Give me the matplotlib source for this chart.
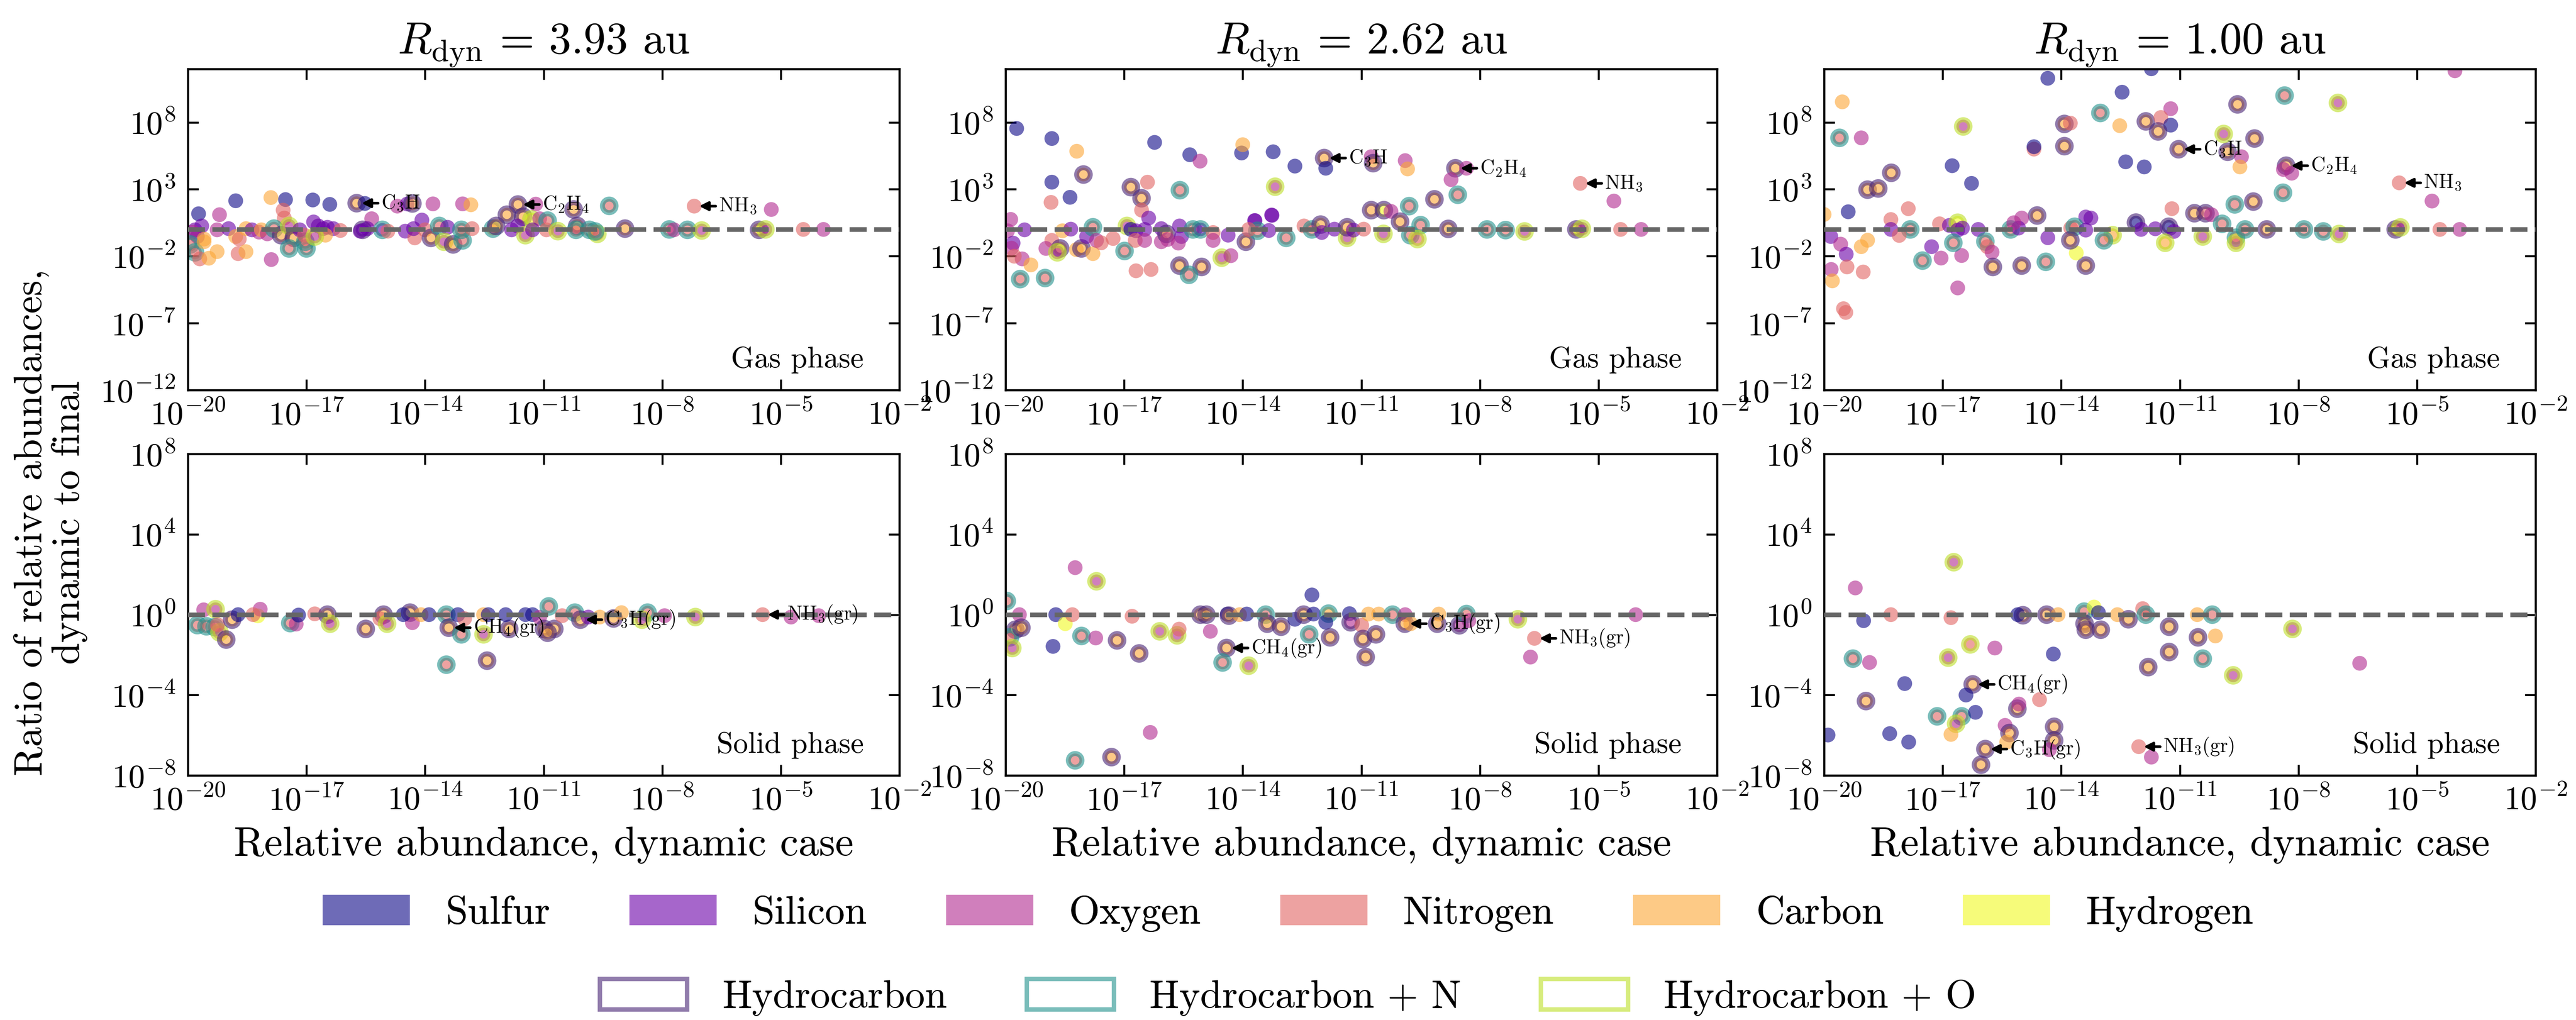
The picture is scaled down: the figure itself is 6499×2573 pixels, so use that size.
import numpy as np
import matplotlib
matplotlib.use("Agg")
import matplotlib.pyplot as plt
from matplotlib.patches import Patch
from matplotlib.ticker import NullLocator, FixedLocator

plt.rcParams.update({
    "font.family": "serif",
    "font.serif": ["cmr10"],
    "mathtext.fontset": "cm",
    "axes.formatter.use_mathtext": True,
})

# ---------------- data: (log10 abundance, log10 ratio, element group, hydrocarbon class) ----------------
TITLES = [r"$R_\mathrm{dyn}\,=\,3.93$ au", r"$R_\mathrm{dyn}\,=\,2.62$ au", r"$R_\mathrm{dyn}\,=\,1.00$ au"]
ELEMENTS = ["Sulfur", "Silicon", "Oxygen", "Nitrogen", "Carbon", "Hydrogen"]
ELEM_CODES = ["S", "Si", "O", "N", "C", "H"]
HC_LABELS = ["Hydrocarbon", "Hydrocarbon + N", "Hydrocarbon + O"]
HC_CODES = ["HC", "HCN", "HCO"]
X_TICKS = [1e-20, 1e-17, 1e-14, 1e-11, 1e-8, 1e-5, 1e-2]
GAS_YTICKS = [1e-12, 1e-7, 1e-2, 1e3, 1e8]
SOLID_YTICKS = [1e-8, 1e-4, 1e0, 1e4, 1e8]

GAS_393 = [
    (-19.73, 1.17, "S", ""), (-19.2, 1.10, "O", ""), (-18.79, 2.14, "S", ""), (-17.9, 2.38, "C", ""),
    (-17.53, 2.23, "S", ""), (-17.59, 1.44, "N", ""), (-17.56, 0.85, "N", ""), (-16.84, 2.2, "S", ""),
    (-16.41, 1.87, "S", ""), (-15.73, 1.96, "C", "HC"), (-15.52, 1.94, "S", ""), (-14.7, 1.74, "O", ""),
    (-14.45, 1.9, "Si", ""), (-14.32, 1.94, "C", "HC"), (-13.8, 1.91, "O", ""), (-13.05, 1.91, "O", ""),
    (-12.84, 1.84, "C", ""), (-11.65, 1.86, "C", "HC"), (-11.2, 1.89, "O", ""), (-15.35, 0.8, "O", ""),
    (-14.08, 0.7, "Si", ""), (-11.93, 1.1, "C", "HC"), (-11.52, 0.95, "C", "HC"), (-11.31, 0.75, "H", "HCO"),
    (-11.1, 0.8, "O", ""), (-10.24, 1.49, "C", "HC"), (-9.34, 1.76, "N", "HCN"), (-7.19, 1.74, "N", ""),
    (-5.24, 1.49, "O", ""), (-10.9, 0.66, "N", "HCN"),
    (-19.82, -0.03, "Si", ""), (-19.65, 0.26, "Si", ""), (-19.76, -0.53, "Si", ""), (-19.88, -0.2, "O", ""),
    (-19.59, -0.72, "C", ""), (-19.26, -0.03, "O", ""), (-18.97, 0.06, "Si", ""), (-18.79, -0.53, "C", ""),
    (-18.7, -0.72, "N", ""), (-18.53, 0.06, "C", ""), (-18.38, -0.03, "Si", ""), (-18.2, -0.2, "O", ""),
    (-18.14, -0.03, "C", ""), (-17.99, -0.33, "O", ""), (-17.82, 0.06, "N", "HCN"), (-17.64, -0.43, "C", "HC"),
    (-17.44, 0.26, "O", "HCO"), (-17.32, -0.63, "C", "HC"), (-17.44, -1.42, "N", "HCN"), (-17.0, -1.42, "N", "HCN"),
    (-17.03, -0.92, "N", "HCN"), (-17.17, -0.03, "Si", ""), (-17.05, -0.43, "N", ""), (-16.82, 0.56, "Si", ""),
    (-16.7, 0.26, "Si", ""), (-16.58, 0.06, "Si", ""), (-16.47, 0.16, "Si", ""), (-16.32, 0.06, "Si", ""),
    (-16.52, -0.43, "C", ""), (-16.14, -0.08, "N", ""), (-16.79, -0.53, "O", "HCO"), (-15.58, -0.03, "Si", "HC"),
    (-15.64, -0.13, "Si", ""), (-15.46, 0.06, "Si", ""), (-15.08, -0.03, "Si", "HCN"), (-14.94, -0.13, "N", ""),
    (-14.5, -0.13, "Si", ""), (-14.26, -0.63, "N", ""), (-14.29, 0.06, "Si", ""), (-14.0, -0.03, "N", ""),
    (-13.85, -0.63, "C", "HC"), (-13.64, 0.26, "N", "HCN"), (-13.43, 0.16, "Si", ""), (-13.52, -0.92, "O", "HCO"),
    (-13.29, -1.12, "C", "HC"), (-13.05, -0.82, "N", "HCN"), (-13.08, -0.03, "N", "HCN"), (-12.81, 0.06, "N", ""),
    (-12.28, 0.06, "C", "HCN"), (-12.2, 0.26, "C", "HC"), (-11.81, -0.03, "Si", ""), (-11.66, 0.26, "Si", ""),
    (-11.46, -0.43, "O", "HCO"), (-11.28, -0.03, "Si", ""), (-10.93, -0.03, "N", ""),
    (-19.94, -1.12, "N", "HCN"), (-19.82, -1.71, "N", "HCN"), (-19.7, -2.2, "N", ""), (-19.47, -2.15, "C", ""),
    (-19.26, -1.66, "C", ""), (-19.59, -0.92, "C", ""), (-18.73, -1.81, "N", ""), (-18.53, -1.66, "C", ""),
    (-17.89, -2.25, "O", ""),
    (-10.64, -0.13, "O", "HCO"), (-10.15, 0.26, "C", "HC"), (-10.18, -0.03, "N", "HCN"), (-9.84, -0.03, "N", "HCN"),
    (-9.64, -0.33, "N", "HCO"), (-9.7, -0.15, "N", "HCN"), (-8.94, 0.06, "C", "HC"), (-7.82, 0.0, "N", "HCN"),
    (-7.7, -0.03, "O", ""), (-7.36, -0.03, "N", "HCN"), (-7.0, -0.08, "O", "HCO"), (-5.55, -0.03, "C", "HC"),
    (-5.39, 0.0, "O", "HCO"), (-4.43, 0.0, "N", ""), (-3.92, 0.0, "O", ""),
]

GAS_262 = [
    (-19.72, 7.54, "S", ""), (-18.83, 6.79, "S", ""), (-18.2, 5.84, "C", ""), (-16.23, 6.5, "S", ""),
    (-15.34, 5.58, "S", ""), (-15.08, 5.1, "O", ""), (-14.03, 5.71, "S", ""), (-14.0, 6.33, "C", ""),
    (-13.23, 5.8, "S", ""), (-12.68, 4.73, "S", ""), (-11.94, 5.33, "C", "HC"), (-11.9, 4.57, "S", ""),
    (-10.75, 5.43, "O", ""), (-10.7, 4.95, "C", "HC"), (-9.89, 5.14, "O", ""), (-9.83, 4.52, "C", ""),
    (-8.62, 4.57, "C", "HC"), (-8.34, 4.57, "O", ""), (-8.73, 3.72, "O", ""), (-5.46, 3.44, "N", ""),
    (-4.61, 2.12, "O", ""), (-18.83, 3.53, "S", ""), (-18.37, 2.4, "S", ""), (-18.85, 2.02, "N", ""),
    (-18.03, 4.1, "C", "HC"), (-16.83, 3.16, "C", "HC"), (-16.41, 3.53, "N", ""), (-16.56, 2.33, "C", "HC"),
    (-16.56, 1.44, "N", ""), (-16.38, 0.85, "Si", ""), (-15.59, 2.93, "N", "HCN"), (-13.18, 3.19, "O", "HCO"),
    (-13.27, 1.08, "Si", ""), (-13.7, 0.66, "Si", ""), (-10.75, 1.44, "C", "HC"), (-10.43, 1.44, "H", "HC"),
    (-10.25, 1.35, "O", ""), (-9.79, 1.74, "N", "HCN"), (-9.15, 2.25, "C", "HC"), (-8.56, 2.59, "N", "HCN"),
    (-10.02, 0.58, "C", "HC"),
    (-19.87, 0.75, "O", ""), (-19.52, -0.03, "Si", ""), (-19.95, -0.1, "O", ""), (-19.81, -1.02, "Si", ""),
    (-19.85, -1.4, "O", ""), (-19.58, -2.2, "O", ""), (-19.78, -2.0, "N", ""), (-19.36, -2.65, "C", ""),
    (-19.63, -3.71, "N", "HCN"), (-19.0, -3.63, "N", "HCN"), (-18.83, -0.82, "N", ""), (-18.98, -1.42, "O", ""),
    (-18.62, -1.42, "C", "HC"), (-18.69, -1.71, "O", "HCO"), (-18.56, -0.1, "C", ""), (-18.35, 0.02, "Si", ""),
    (-18.21, -1.51, "C", ""), (-18.08, -1.42, "C", "HC"), (-17.95, -0.53, "Si", ""), (-17.79, -1.81, "C", ""),
    (-17.79, 0.16, "N", "HCN"), (-17.7, -0.82, "O", ""), (-17.58, -1.0, "N", ""), (-17.28, -0.68, "N", ""),
    (-16.99, -1.61, "N", "HCN"), (-16.93, 0.26, "O", "HCO"), (-16.83, 0.0, "S", ""), (-16.7, -0.1, "Si", ""),
    (-16.48, 0.0, "Si", ""), (-16.72, -0.82, "N", ""), (-16.48, -0.82, "O", ""), (-16.06, 0.06, "Si", ""),
    (-16.06, -0.92, "O", ""), (-15.93, -0.33, "C", "HC"), (-15.9, -0.75, "O", ""), (-15.6, 0.26, "Si", ""),
    (-15.55, -0.53, "Si", ""), (-15.63, -1.02, "O", ""), (-15.26, 0.0, "N", "HCN"), (-15.07, 0.0, "Si", "HCN"),
    (-14.75, -0.23, "N", ""), (-14.75, -0.82, "O", ""), (-14.37, -0.43, "Si", ""), (-14.53, -2.11, "O", "HCO"),
    (-14.3, -1.96, "O", ""), (-15.6, -2.7, "C", "HC"), (-15.04, -2.8, "C", "HC"), (-15.36, -3.39, "N", "HCN"),
    (-16.7, -3.09, "N", ""), (-16.32, -2.99, "N", ""), (-13.92, -0.92, "C", "HC"), (-13.69, 0.66, "Si", ""),
    (-13.63, -0.1, "N", "HCN"), (-13.85, 0.0, "N", ""), (-13.34, -0.08, "Si", ""), (-13.26, 1.05, "Si", ""),
    (-12.9, -0.63, "N", "HCN"), (-12.45, 0.26, "N", ""), (-12.25, 0.0, "N", "HCN"), (-12.03, 0.36, "C", "HC"),
    (-12.0, -0.23, "Si", ""), (-11.68, 0.02, "Si", ""), (-11.36, -0.63, "O", "HCO"), (-11.36, 0.16, "C", "HC"),
    (-11.2, -0.05, "Si", ""), (-10.94, 0.02, "N", ""), (-10.44, -0.33, "O", "HCO"),
    (-9.5, 0.32, "N", "HCN"), (-9.76, -0.43, "N", "HCN"), (-9.58, -0.72, "N", "HCO"), (-8.8, 0.04, "C", "HC"),
    (-7.82, 0.0, "N", "HCN"), (-7.35, -0.05, "N", "HCN"), (-6.87, -0.15, "O", "HCO"), (-5.56, 0.0, "C", "HC"),
    (-5.42, 0.05, "O", "HCO"), (-4.44, 0.0, "N", ""), (-3.92, 0.0, "O", ""),
]

GAS_100 = [
    (-19.54, 9.53, "C", ""), (-19.61, 6.84, "N", "HCN"), (-19.06, 6.84, "O", ""), (-16.48, 7.69, "O", "HCO"),
    (-14.34, 11.29, "S", ""), (-11.72, 12.0, "S", ""), (-12.46, 10.25, "S", ""), (-13.01, 8.7, "N", "HCN"),
    (-11.23, 9.02, "O", ""), (-13.92, 7.88, "C", "HC"), (-13.77, 7.94, "N", ""), (-12.52, 7.75, "C", ""),
    (-11.86, 8.07, "C", "HC"), (-11.48, 8.36, "N", ""), (-11.23, 7.79, "S", ""), (-11.55, 7.32, "C", "HC"),
    (-9.54, 9.34, "C", "HC"), (-8.35, 10.0, "N", "HCN"), (-7.0, 9.45, "O", "HCO"), (-4.04, 11.85, "O", ""),
    (-14.69, 6.0, "N", ""), (-14.69, 6.18, "S", ""), (-13.92, 6.22, "C", "HC"), (-9.89, 7.13, "O", "HCO"),
    (-9.11, 6.79, "C", "HC"), (-11.03, 5.99, "C", "HC"), (-9.79, 5.8, "C", "HC"), (-9.44, 5.43, "O", ""),
    (-9.48, 4.67, "C", ""), (-12.37, 5.05, "S", ""), (-11.9, 4.67, "S", ""), (-16.76, 4.76, "S", ""),
    (-16.27, 3.44, "S", ""), (-18.3, 4.23, "C", "HC"), (-18.9, 2.97, "C", "HC"), (-18.63, 3.06, "C", "HC"),
    (-8.31, 4.76, "C", "HC"), (-8.38, 4.48, "O", ""), (-8.17, 4.2, "O", ""), (-5.45, 3.48, "N", ""),
    (-4.62, 2.12, "O", ""), (-8.39, 2.74, "N", "HCN"), (-9.14, 2.08, "C", "HC"), (-9.61, 1.87, "N", "HCN"),
    (-11.2, 1.55, "N", ""), (-10.63, 1.21, "C", "HC"), (-10.35, 1.21, "N", "HC"), (-10.2, 1.1, "O", ""),
    (-14.61, 1.04, "C", "HC"), (-19.39, 1.32, "S", ""), (-17.87, 1.55, "N", ""), (-20.0, 1.12, "C", ""),
    (-18.31, 0.74, "N", ""), (-17.08, 0.42, "N", ""), (-13.38, 0.93, "Si", ""), (-13.25, 0.85, "Si", ""),
    (-15.0, 0.85, "O", ""),
    (-18.31, 0.0, "Si", ""), (-17.82, 0.0, "N", "HCN"), (-18.1, -0.45, "N", ""), (-16.83, 0.3, "Si", ""),
    (-16.62, 0.5, "H", "HCO"), (-16.5, 0.1, "Si", ""), (-16.62, -0.05, "Si", ""), (-16.1, 0.0, "Si", ""),
    (-15.92, -0.9, "N", "HCN"), (-15.28, 0.0, "N", "HCN"), (-15.08, 0.1, "Si", ""), (-15.2, 0.5, "O", ""),
    (-13.76, 0.1, "N", ""), (-13.66, 0.2, "N", "HCN"), (-13.38, -0.05, "Si", ""), (-12.7, -0.43, "C", "HCO"),
    (-12.92, -0.81, "N", "HCN"), (-12.11, 0.51, "S", "HC"), (-11.98, 0.0, "Si", ""), (-11.62, 0.05, "Si", ""),
    (-11.28, 0.2, "S", "HC"), (-11.15, -0.15, "Si", ""), (-11.37, -1.0, "C", "HCO"), (-10.42, -0.53, "O", "HCO"),
    (-9.93, 0.42, "N", "HCN"), (-9.58, -0.62, "N", "HCN"), (-9.58, -1.0, "N", "HCO"), (-9.35, 0.0, "N", "HCN"),
    (-8.8, 0.0, "C", "HC"), (-7.86, 0.0, "N", "HCN"), (-7.37, -0.15, "N", "HCN"), (-6.97, -0.34, "O", "HCO"),
    (-5.54, 0.0, "C", "HC"), (-5.42, 0.15, "O", "HCO"), (-4.42, 0.0, "N", ""), (-3.92, 0.0, "O", ""),
    (-19.83, -0.53, "Si", ""), (-19.58, -1.1, "O", ""), (-19.44, -1.85, "Si", ""), (-19.82, -2.99, "O", ""),
    (-19.42, -2.8, "N", ""), (-19.01, -3.18, "N", ""), (-19.79, -3.84, "C", ""), (-19.06, -1.29, "C", ""),
    (-18.9, -0.81, "C", ""), (-17.28, -1.29, "Si", ""), (-17.51, -2.33, "N", "HCN"), (-17.04, -2.14, "O", ""),
    (-16.52, -1.95, "O", ""), (-16.73, -1.0, "N", "HCN"), (-15.87, -1.29, "N", ""), (-15.75, -1.7, "O", ""),
    (-15.73, -2.8, "C", "HC"), (-15.0, -2.7, "C", "HC"), (-14.39, -2.42, "N", "HCN"), (-13.38, -2.7, "C", "HC"),
    (-13.62, -1.76, "H", ""), (-14.34, -0.62, "Si", ""), (-13.77, -0.81, "C", "HC"), (-16.62, -4.37, "O", ""),
    (-19.51, -5.92, "N", ""), (-19.45, -6.2, "N", ""),
]

SOLID_393 = [
    (-19.6, 0.24, "O", ""), (-19.3, 0.27, "O", "HCO"), (-19.76, -0.52, "N", "HCN"), (-19.53, -0.58, "N", "HCN"),
    (-19.32, -0.62, "N", "HCN"), (-19.2, -0.88, "N", "HCO"), (-19.25, -0.5, "N", ""), (-18.88, -0.25, "C", "HC"),
    (-18.73, 0.0, "S", ""), (-19.03, -1.24, "C", "HC"), (-18.23, -0.06, "H", ""), (-18.17, 0.27, "O", ""),
    (-18.35, 0.0, "N", ""), (-17.41, -0.42, "N", "HCN"), (-17.26, -0.47, "O", ""), (-17.2, -0.02, "S", ""),
    (-16.79, 0.04, "N", ""), (-16.47, 0.0, "C", "HC"), (-16.4, -0.45, "O", "HCO"), (-15.5, -0.71, "C", "HC"),
    (-15.05, 0.0, "C", "HC"), (-15.14, -0.2, "N", ""), (-14.96, -0.45, "O", "HCO"), (-14.38, 0.1, "C", "HC"),
    (-14.32, -0.4, "O", ""), (-14.55, 0.0, "S", ""), (-14.1, 0.0, "C", ""), (-13.9, 0.0, "S", ""),
    (-13.46, 0.0, "N", "HCN"), (-13.4, -0.65, "C", "HC"), (-13.17, 0.0, "S", ""), (-13.08, -0.98, "N", "HCN"),
    (-13.0, -0.2, "N", ""), (-12.52, -0.98, "O", "HCO"), (-12.52, 0.0, "C", ""), (-12.4, 0.0, "S", ""),
    (-11.87, -0.71, "C", "HC"), (-11.96, 0.0, "S", ""), (-11.46, 0.0, "S", ""), (-11.28, 0.0, "S", ""),
    (-11.1, -0.13, "O", ""), (-10.99, -0.71, "C", "HC"), (-10.87, 0.41, "N", "HCN"), (-13.46, -2.49, "N", "HCN"),
    (-12.43, -2.29, "C", "HC"), (-10.73, -0.71, "C", "HC"), (-10.9, -0.9, "C", "HC"), (-10.53, -0.05, "N", ""),
    (-10.21, 0.1, "N", "HCN"), (-10.07, -0.25, "C", "HC"), (-9.87, -0.12, "Si", ""), (-9.58, -0.12, "C", ""),
    (-9.23, -0.19, "C", "HC"), (-9.03, 0.1, "C", ""), (-8.37, 0.1, "N", "HCN"), (-8.51, -0.25, "O", "HCO"),
    (-7.94, -0.05, "O", ""), (-7.16, -0.12, "O", "HCO"), (-5.46, 0.0, "N", ""), (-4.74, -0.12, "O", ""),
    (-4.04, -0.05, "O", ""),
]

SOLID_262 = [
    (-19.97, 0.68, "N", "HCN"), (-19.65, 0.0, "O", ""), (-19.75, -0.75, "C", "HC"), (-19.89, -1.13, "N", "HCN"),
    (-19.83, -1.66, "O", "HCO"), (-19.6, -0.65, "C", "HC"), (-18.8, -1.58, "S", ""), (-18.73, 0.0, "S", ""),
    (-18.49, -0.45, "H", ""), (-18.31, 0.0, "N", ""), (-18.24, 2.34, "O", ""), (-17.7, 1.66, "O", "HCO"),
    (-18.08, -1.06, "N", "HCN"), (-17.72, -1.16, "O", ""), (-17.18, -1.28, "C", "HC"), (-16.8, -0.08, "N", ""),
    (-16.62, -1.93, "C", "HC"), (-16.1, -0.83, "O", "HCO"), (-15.66, -1.03, "O", "HCO"), (-15.61, -0.72, "N", ""),
    (-15.07, 0.0, "C", "HC"), (-14.92, 0.0, "C", "HC"), (-14.82, -0.83, "O", ""), (-14.39, 0.03, "S", ""),
    (-14.35, -0.05, "C", "HC"), (-14.08, 0.0, "C", ""), (-13.9, 0.03, "S", ""), (-14.41, -1.66, "C", "HC"),
    (-14.51, -2.38, "N", "HCN"), (-13.85, -2.54, "O", "HCO"), (-13.42, 0.0, "N", "HCN"), (-13.38, -0.45, "C", "HC"),
    (-13.03, -0.6, "C", "HC"), (-12.68, -0.23, "S", ""), (-12.46, 0.0, "C", "HC"), (-12.25, 0.98, "S", ""),
    (-12.21, 0.03, "S", ""), (-12.32, -0.98, "N", "HCN"), (-11.83, 0.05, "C", "HCN"), (-11.9, -0.38, "S", ""),
    (-11.79, -1.13, "C", "HC"), (-11.3, 0.05, "S", ""), (-11.27, -0.38, "O", "HC"), (-10.99, -0.53, "N", ""),
    (-10.96, -1.21, "C", "HC"), (-10.89, -2.11, "C", "HC"), (-10.82, 0.03, "C", ""), (-10.63, -0.98, "C", "HC"),
    (-10.56, 0.03, "C", ""), (-10.21, 0.0, "N", "HCN"), (-9.89, 0.0, "O", ""), (-9.9, -0.45, "C", "HC"),
    (-9.75, -0.45, "C", ""), (-9.08, -0.45, "C", "HC"), (-9.04, 0.03, "C", ""), (-8.52, -0.53, "O", "HC"),
    (-8.34, 0.03, "N", "HCN"), (-8.28, -0.3, "O", ""), (-7.04, -0.23, "O", "HCO"), (-6.62, -1.18, "N", ""),
    (-6.72, -2.11, "O", ""), (-4.06, 0.0, "O", ""), (-18.24, -7.25, "N", "HCN"), (-17.32, -7.09, "C", "HC"),
    (-16.34, -5.86, "O", ""),
]

SOLID_100 = [
    (-16.72, 2.61, "O", "HCO"), (-19.21, 1.33, "O", ""), (-18.31, 0.0, "N", ""), (-16.79, -0.15, "N", ""),
    (-19.0, -0.3, "S", ""), (-19.27, -2.19, "N", "HCN"), (-18.85, -2.38, "O", ""), (-16.86, -2.14, "O", "HCO"),
    (-16.3, -1.48, "N", "HCO"), (-15.68, -1.66, "O", ""), (-14.2, -1.96, "S", ""), (-14.97, -0.03, "C", "HC"),
    (-15.1, 0.0, "S", ""), (-14.37, 0.0, "C", "HC"), (-14.08, 0.0, "C", ""), (-13.42, 0.15, "N", "HCN"),
    (-13.41, -0.45, "C", "HC"), (-13.38, -0.75, "C", "HC"), (-13.17, 0.38, "H", ""), (-13.06, 0.1, "S", ""),
    (-13.0, -0.75, "C", "HC"), (-12.58, 0.0, "C", ""), (-12.3, -0.23, "C", "HC"), (-11.94, 0.3, "N", ""),
    (-11.86, 0.0, "N", "HCN"), (-11.27, -0.6, "C", "HC"), (-11.27, -1.86, "C", "HC"), (-11.8, -2.61, "C", "HC"),
    (-10.56, 0.0, "C", ""), (-10.18, 0.0, "N", "HCN"), (-10.54, -1.13, "C", "HC"), (-10.1, -1.06, "C", ""),
    (-10.42, -2.19, "N", "HCN"), (-9.65, -3.02, "O", "HCO"), (-8.15, -0.71, "O", "HCO"), (-6.45, -2.42, "O", ""),
    (-17.96, -3.43, "S", ""), (-16.24, -3.47, "C", "HC"), (-16.41, -4.0, "S", ""), (-18.94, -4.3, "C", "HC"),
    (-17.14, -5.06, "N", "HCN"), (-16.52, -5.06, "N", "HCN"), (-16.17, -4.86, "S", ""), (-16.66, -5.43, "O", "HCO"),
    (-16.79, -5.96, "C", ""), (-18.34, -5.92, "S", ""), (-17.86, -6.34, "S", ""), (-19.9, -5.99, "S", ""),
    (-15.11, -4.68, "C", "HC"), (-15.07, -4.45, "O", ""), (-14.55, -4.23, "N", ""), (-15.42, -5.51, "O", ""),
    (-15.31, -5.89, "C", "HC"), (-15.38, -6.34, "C", ""), (-14.18, -5.58, "C", "HC"), (-14.18, -6.26, "C", "HC"),
    (-14.3, -6.72, "O", ""), (-15.92, -6.69, "C", "HC"), (-16.03, -7.47, "C", "HC"), (-12.04, -6.57, "N", ""),
    (-11.72, -7.09, "O", ""),
]

# labelled species: (log10 abundance, log10 ratio, label)
LABELS_GAS_393 = [(-15.73, 1.96, r"C$_3$H"), (-11.65, 1.86, r"C$_2$H$_4$"), (-7.19, 1.74, r"NH$_3$")]
LABELS_GAS_262 = [(-11.94, 5.33, r"C$_3$H"), (-8.62, 4.57, r"C$_2$H$_4$"), (-5.46, 3.44, r"NH$_3$")]
LABELS_GAS_100 = [(-11.03, 5.99, r"C$_3$H"), (-8.31, 4.76, r"C$_2$H$_4$"), (-5.45, 3.48, r"NH$_3$")]
LABELS_SOLID_393 = [(-13.4, -0.65, r"CH$_4$(gr)"), (-10.07, -0.25, r"C$_3$H(gr)"), (-5.46, 0.0, r"NH$_3$(gr)")]
LABELS_SOLID_262 = [(-14.41, -1.66, r"CH$_4$(gr)"), (-9.9, -0.45, r"C$_3$H(gr)"), (-6.62, -1.18, r"NH$_3$(gr)")]
LABELS_SOLID_100 = [(-16.24, -3.47, r"CH$_4$(gr)"), (-15.92, -6.69, r"C$_3$H(gr)"), (-12.04, -6.57, r"NH$_3$(gr)")]

# ---------------- styling ----------------
ALPHA = 0.6
plasma = plt.get_cmap("plasma")
viridis = plt.get_cmap("viridis")
ELEM_COL = {c: plasma(v) for c, v in zip(ELEM_CODES, np.linspace(0, 1, 6))}
HC_COL = {c: viridis(v) for c, v in zip(HC_CODES, [0.1, 0.5, 0.9])}


def rgba(c, a=ALPHA):
    return (c[0], c[1], c[2], a)


def on_white(c, a=ALPHA):
    return tuple(a * c[k] + (1 - a) for k in range(3))


W, H = 6499, 2573
fig = plt.figure(figsize=(W / 300, H / 300), dpi=300)

lefts = [474 / W, 2537 / W, 4602 / W]
aw = 1795 / W
top_b, top_h = 1 - 984 / H, (984 - 173.5) / H
bot_b, bot_h = 1 - 1956 / H, (1956 - 1145) / H


def draw(ax, data, labels, yticks, ylim, phase):
    lx = np.array([d[0] for d in data])
    ly = np.array([d[1] for d in data])
    face = [rgba(ELEM_COL[d[2]]) for d in data]
    edge = [rgba(HC_COL[d[3]]) if d[3] else (0, 0, 0, 0) for d in data]
    lws = [3.0 if d[3] else 0.0 for d in data]
    sizes = [68 if d[3] else 80 for d in data]
    ax.scatter(10.0 ** lx, 10.0 ** ly, s=sizes, c=face, edgecolors=edge, linewidths=lws, zorder=2)
    ax.axhline(1.0, color="#666666", ls="--", lw=2.8, zorder=3)
    ax.set_xscale("log")
    ax.set_yscale("log")
    ax.set_xlim(1e-20, 1e-2)
    ax.set_ylim(*ylim)
    ax.xaxis.set_major_locator(FixedLocator(X_TICKS))
    ax.yaxis.set_major_locator(FixedLocator(yticks))
    ax.xaxis.set_minor_locator(NullLocator())
    ax.yaxis.set_minor_locator(NullLocator())
    ax.tick_params(which="both", direction="in", top=True, right=True, length=6.5, width=1.2,
                   labelsize=20)
    ax.tick_params(axis="x", pad=6)
    ax.tick_params(axis="y", pad=7.5)
    for sp in ax.spines.values():
        sp.set_linewidth(1.3)
    for x, y, t in labels:
        ax.annotate(t, xy=(10.0 ** x, 10.0 ** y), xytext=(15, 0), textcoords="offset points",
                    ha="left", va="center", fontsize=12, zorder=5,
                    arrowprops=dict(arrowstyle="-|>", color="k", lw=1.6, mutation_scale=11,
                                    shrinkA=0, shrinkB=3))
    ax.text(0.95, 0.07, phase, transform=ax.transAxes, ha="right", va="baseline", fontsize=18)


gas_sets = [GAS_393, GAS_262, GAS_100]
solid_sets = [SOLID_393, SOLID_262, SOLID_100]
gas_labels = [LABELS_GAS_393, LABELS_GAS_262, LABELS_GAS_100]
solid_labels = [LABELS_SOLID_393, LABELS_SOLID_262, LABELS_SOLID_100]

for i in range(3):
    axg = fig.add_axes([lefts[i], top_b, aw, top_h])
    draw(axg, gas_sets[i], gas_labels[i], GAS_YTICKS, (1e-12, 1e12), "Gas phase")
    axg.set_title(TITLES[i], fontsize=27, pad=9)
    axs = fig.add_axes([lefts[i], bot_b, aw, bot_h])
    draw(axs, solid_sets[i], solid_labels[i], SOLID_YTICKS, (1e-8, 1e8), "Solid phase")
    axs.set_xlabel("Relative abundance, dynamic case", fontsize=25, labelpad=6)

fig.text(128 / W, 1 - 1318 / H, "Ratio of relative abundances,\ndynamic to final", rotation=90,
         ha="center", va="center", fontsize=24, linespacing=1.05)

elem_handles = [Patch(facecolor=on_white(ELEM_COL[c]), edgecolor="none") for c in ELEM_CODES]
leg1 = fig.legend(elem_handles, ELEMENTS, loc="center", bbox_to_anchor=(0.5, 1 - 2304 / H), ncol=6,
                  frameon=False, fontsize=24, handlelength=2.2, handleheight=0.8,
                  columnspacing=2.0, handletextpad=0.9)
hc_handles = [Patch(facecolor="white", edgecolor=on_white(HC_COL[c]), linewidth=2.7) for c in HC_CODES]
leg2 = fig.legend(hc_handles, HC_LABELS, loc="center", bbox_to_anchor=(0.5, 1 - 2516 / H), ncol=3,
                  frameon=False, fontsize=24, handlelength=2.2, handleheight=0.8,
                  columnspacing=2.0, handletextpad=0.9)
fig.add_artist(leg1)

fig.savefig("out.png", dpi=300)
